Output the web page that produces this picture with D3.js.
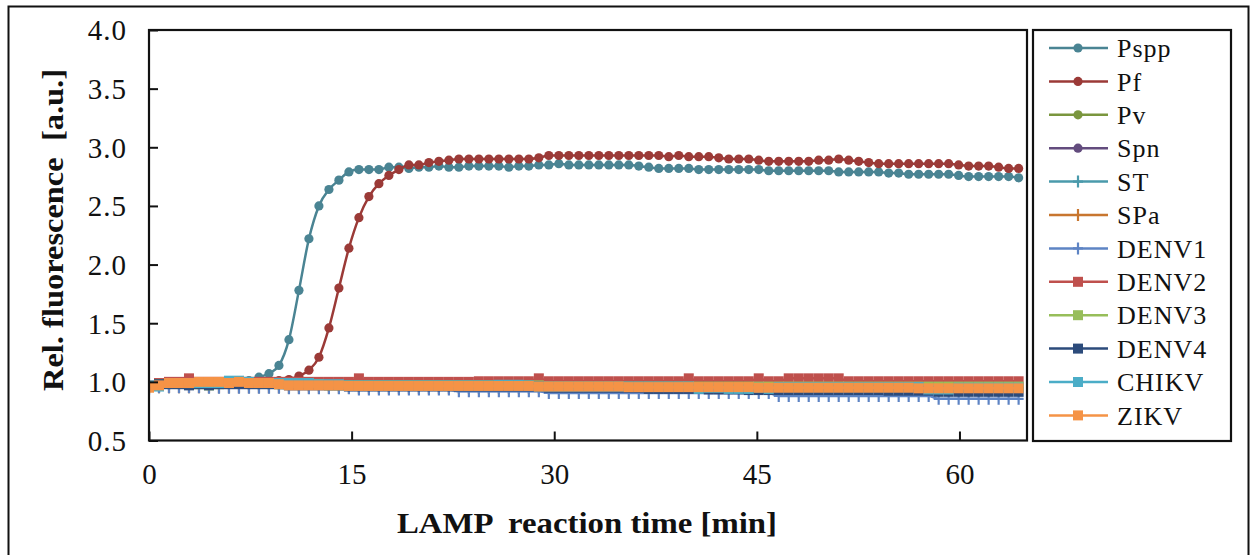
<!DOCTYPE html>
<html><head><meta charset="utf-8">
<script src="https://cdn.jsdelivr.net/npm/d3@7"></script>
<style>
html,body{margin:0;padding:0;background:#fff;}
svg{display:block;}
</style></head>
<body><svg id="c" width="1254" height="555"></svg>
<script>
// ---- data ----
const times = [0,0.74,1.48,2.22,2.96,3.7,4.44,5.18,5.92,6.66,7.4,8.14,8.88,9.62,10.36,11.1,11.84,12.58,13.32,14.06,14.8,15.54,16.28,17.02,17.76,18.5,19.24,19.98,20.72,21.46,22.2,22.94,23.68,24.42,25.16,25.9,26.64,27.38,28.12,28.86,29.6,30.34,31.08,31.82,32.56,33.3,34.04,34.78,35.52,36.26,37,37.74,38.48,39.22,39.96,40.7,41.44,42.18,42.92,43.66,44.4,45.14,45.88,46.62,47.36,48.1,48.84,49.58,50.32,51.06,51.8,52.54,53.28,54.02,54.76,55.5,56.24,56.98,57.72,58.46,59.2,59.94,60.68,61.42,62.16,62.9,63.64,64.38];

const Pspp = [0.96,0.98,0.99,1.00,1.00,1.00,1.00,1.00,1.00,1.01,
 1.01,1.04,1.07,1.14,1.36,1.78,2.22,2.50,2.64,2.72,
 2.79,2.81,2.81,2.81,2.83,2.83,2.82,2.83,2.83,2.84,
 2.83,2.83,2.84,2.84,2.84,2.84,2.83,2.84,2.84,2.85,
 2.85,2.86,2.85,2.85,2.85,2.85,2.85,2.85,2.85,2.84,
 2.83,2.82,2.82,2.82,2.82,2.81,2.81,2.81,2.81,2.81,
 2.81,2.81,2.80,2.80,2.80,2.80,2.80,2.80,2.80,2.79,
 2.79,2.79,2.79,2.79,2.78,2.78,2.77,2.77,2.77,2.77,
 2.77,2.76,2.75,2.75,2.75,2.75,2.75,2.74];
const Pf = [0.97,0.98,0.99,1.00,1.00,1.00,1.00,1.00,1.00,1.00,
 1.00,1.00,1.00,1.01,1.02,1.05,1.10,1.21,1.46,1.80,
 2.14,2.40,2.58,2.69,2.76,2.81,2.85,2.85,2.87,2.88,
 2.89,2.90,2.90,2.90,2.90,2.90,2.90,2.90,2.90,2.91,
 2.93,2.93,2.93,2.93,2.93,2.93,2.93,2.93,2.93,2.93,
 2.93,2.93,2.92,2.93,2.92,2.92,2.92,2.91,2.90,2.90,
 2.90,2.89,2.88,2.88,2.88,2.88,2.88,2.89,2.89,2.90,
 2.89,2.88,2.87,2.86,2.86,2.86,2.86,2.86,2.86,2.86,
 2.86,2.85,2.84,2.84,2.84,2.83,2.82,2.82];
const Pv = [0.96,0.98,0.99,0.99,0.99,0.99,0.99,0.99,0.99,0.99,
 0.99,0.99,0.98,0.98,0.98,0.98,0.97,0.97,0.97,0.97,
 0.97,0.97,0.97,0.97,0.97,0.97,0.97,0.97,0.97,0.97,
 0.97,0.97,0.97,0.97,0.97,0.97,0.97,0.97,0.97,0.97,
 0.96,0.96,0.96,0.96,0.96,0.96,0.96,0.96,0.96,0.96,
 0.96,0.96,0.96,0.96,0.96,0.96,0.96,0.96,0.96,0.96,
 0.96,0.96,0.96,0.96,0.96,0.96,0.96,0.96,0.96,0.96,
 0.96,0.96,0.96,0.96,0.96,0.96,0.96,0.96,0.96,0.96,
 0.96,0.96,0.96,0.96,0.96,0.96,0.96,0.96];
const Spn = [0.97,0.98,0.99,0.99,0.99,1.00,1.00,1.00,0.99,0.99,
 0.99,0.99,0.99,0.98,0.98,0.98,0.98,0.98,0.97,0.97,
 0.97,0.97,0.97,0.97,0.97,0.97,0.97,0.97,0.97,0.97,
 0.97,0.97,0.97,0.97,0.97,0.97,0.97,0.97,0.97,0.97,
 0.97,0.97,0.97,0.97,0.97,0.97,0.97,0.97,0.97,0.97,
 0.97,0.97,0.97,0.97,0.97,0.97,0.97,0.97,0.97,0.97,
 0.97,0.97,0.97,0.97,0.97,0.97,0.97,0.97,0.97,0.97,
 0.97,0.97,0.97,0.97,0.97,0.97,0.97,0.97,0.97,0.97,
 0.97,0.97,0.97,0.97,0.97,0.97,0.97,0.97];
const ST = [0.96,0.97,0.98,0.99,0.99,0.99,0.99,0.99,0.99,0.99,
 0.98,0.98,0.98,0.98,0.98,0.97,0.97,0.97,0.97,0.97,
 0.97,0.97,0.97,0.97,0.97,0.97,0.97,0.97,0.97,0.97,
 0.97,0.97,0.97,0.97,0.97,0.97,0.97,0.97,0.97,0.97,
 0.96,0.96,0.96,0.96,0.96,0.96,0.96,0.96,0.96,0.96,
 0.96,0.96,0.96,0.96,0.96,0.96,0.96,0.96,0.96,0.96,
 0.96,0.96,0.96,0.96,0.96,0.96,0.96,0.96,0.96,0.96,
 0.96,0.96,0.96,0.96,0.96,0.96,0.96,0.96,0.96,0.96,
 0.96,0.96,0.96,0.96,0.96,0.96,0.96,0.96];
const SPa = [0.95,0.955,0.955,0.955,0.955,0.955,0.955,0.955,0.955,0.955,
 0.955,0.955,0.955,0.955,0.95,0.95,0.95,0.95,0.95,0.95,
 0.95,0.95,0.95,0.95,0.95,0.95,0.95,0.95,0.95,0.95,
 0.95,0.95,0.95,0.95,0.95,0.95,0.95,0.95,0.95,0.95,
 0.95,0.95,0.95,0.95,0.95,0.95,0.95,0.95,0.95,0.95,
 0.95,0.95,0.95,0.95,0.95,0.95,0.95,0.95,0.95,0.95,
 0.95,0.95,0.95,0.95,0.95,0.95,0.95,0.95,0.95,0.95,
 0.95,0.95,0.95,0.95,0.95,0.95,0.95,0.95,0.95,0.95,
 0.95,0.95,0.95,0.95,0.95,0.95,0.95,0.95];
const DENV1 = [0.94,0.955,0.955,0.955,0.955,0.955,0.95,0.95,0.95,0.95,
 0.95,0.95,0.95,0.95,0.945,0.945,0.945,0.945,0.945,0.945,
 0.945,0.935,0.935,0.935,0.935,0.935,0.935,0.935,0.935,0.935,
 0.935,0.92,0.92,0.92,0.92,0.92,0.92,0.92,0.92,0.92,
 0.905,0.905,0.905,0.905,0.905,0.905,0.905,0.905,0.905,0.905,
 0.905,0.905,0.905,0.905,0.905,0.905,0.905,0.905,0.905,0.905,
 0.905,0.905,0.905,0.88,0.88,0.88,0.88,0.88,0.88,0.88,
 0.88,0.88,0.88,0.88,0.88,0.88,0.88,0.88,0.88,0.855,
 0.855,0.855,0.855,0.855,0.855,0.855,0.855,0.855];
const DENV2 = [0.97,0.99,1.00,1.00,1.03,1.00,1.00,1.00,1.00,1.00,
 1.00,1.00,1.00,1.00,1.00,1.00,1.00,1.00,1.00,1.00,
 1.00,1.03,1.00,1.00,1.00,1.00,1.00,1.00,1.00,1.00,
 1.00,1.00,1.00,1.005,1.005,1.005,1.005,1.005,1.005,1.03,
 1.005,1.005,1.005,1.005,1.005,1.005,1.005,1.005,1.005,1.005,
 1.005,1.005,1.005,1.005,1.03,1.005,1.005,1.005,1.005,1.005,
 1.005,1.03,1.005,1.005,1.03,1.03,1.03,1.03,1.03,1.03,
 1.005,1.005,1.005,1.005,1.005,1.005,1.005,1.005,1.005,1.005,
 1.005,1.005,1.005,1.005,1.005,1.005,1.005,1.005];
const DENV3 = [0.96,0.98,0.99,0.99,0.99,0.98,0.97,0.98,0.99,0.99,
 0.99,0.99,0.99,0.98,0.98,0.98,0.98,0.98,0.97,0.97,
 0.97,0.97,0.97,0.97,0.97,0.97,0.97,0.97,0.97,0.97,
 0.97,0.97,0.97,0.97,0.97,0.97,0.97,0.97,0.97,0.97,
 0.96,0.96,0.96,0.96,0.96,0.96,0.96,0.96,0.96,0.96,
 0.96,0.96,0.96,0.96,0.96,0.96,0.96,0.96,0.96,0.96,
 0.96,0.96,0.96,0.96,0.96,0.96,0.96,0.96,0.96,0.96,
 0.96,0.96,0.96,0.96,0.96,0.96,0.96,0.96,0.96,0.96,
 0.96,0.96,0.96,0.96,0.96,0.96,0.96,0.96];
const DENV4 = [0.96,0.98,0.98,0.98,0.97,0.98,0.97,0.98,0.98,0.98,
 0.98,0.98,0.98,0.98,0.97,0.97,0.97,0.97,0.97,0.97,
 0.96,0.96,0.96,0.96,0.96,0.96,0.96,0.96,0.96,0.96,
 0.96,0.96,0.96,0.96,0.96,0.96,0.96,0.96,0.96,0.96,
 0.95,0.95,0.95,0.95,0.95,0.95,0.95,0.95,0.95,0.95,
 0.94,0.94,0.94,0.94,0.94,0.94,0.935,0.935,0.935,0.935,
 0.93,0.93,0.93,0.93,0.93,0.93,0.93,0.93,0.93,0.93,
 0.93,0.93,0.93,0.93,0.925,0.925,0.925,0.925,0.925,0.915,
 0.915,0.915,0.915,0.915,0.915,0.915,0.915,0.915];
const CHIKV = [0.97,0.96,0.99,0.99,0.99,0.99,0.99,0.99,1.01,1.01,
 1.00,0.99,0.99,0.99,0.99,0.99,0.99,0.98,0.98,0.98,
 0.97,0.97,0.97,0.97,0.97,0.97,0.97,0.97,0.97,0.97,
 0.97,0.97,0.97,0.97,0.97,0.975,0.975,0.975,0.97,0.96,
 0.96,0.96,0.96,0.96,0.96,0.96,0.96,0.96,0.96,0.96,
 0.96,0.96,0.96,0.96,0.96,0.94,0.95,0.95,0.94,0.94,
 0.94,0.95,0.94,0.955,0.955,0.955,0.955,0.955,0.955,0.955,
 0.955,0.955,0.955,0.955,0.955,0.955,0.955,0.955,0.935,0.935,
 0.935,0.95,0.95,0.95,0.95,0.95,0.95,0.95];
const ZIKV = [0.95,0.97,0.99,0.99,0.99,1.00,1.00,1.00,0.99,1.00,
 0.99,0.99,0.99,0.98,0.97,0.97,0.97,0.97,0.97,0.97,
 0.965,0.965,0.965,0.965,0.965,0.965,0.965,0.965,0.965,0.965,
 0.965,0.965,0.965,0.965,0.965,0.965,0.965,0.965,0.965,0.96,
 0.96,0.96,0.96,0.96,0.96,0.96,0.96,0.96,0.955,0.955,
 0.955,0.955,0.955,0.955,0.955,0.955,0.955,0.955,0.955,0.955,
 0.955,0.95,0.95,0.95,0.95,0.95,0.95,0.95,0.95,0.95,
 0.95,0.95,0.95,0.95,0.95,0.95,0.95,0.945,0.945,0.945,
 0.945,0.945,0.945,0.945,0.945,0.945,0.945,0.945];

const seriesNames = ["Pspp","Pf","Pv","Spn","ST","SPa","DENV1","DENV2","DENV3","DENV4","CHIKV","ZIKV"];
const seriesValues = [Pspp,Pf,Pv,Spn,ST,SPa,DENV1,DENV2,DENV3,DENV4,CHIKV,ZIKV];
const seriesColors = ["#4A8493","#9B3A37","#7A963E","#634C7E","#4A9AAB","#C8762F","#5E84C4","#BF504D","#97BE5A","#2C4B7B","#4BADC7","#F59346"];
const seriesMarkers = ["circle","circle","circle","circle","plus","plus","plus","square","square","square","square","square"];
const xTicks = [0,15,30,45,60];
const yTicks = [0.5,1.0,1.5,2.0,2.5,3.0,3.5,4.0];
const xTitle = "LAMP  reaction time [min]";
const yTitle = "Rel. fluorescence  [a.u.]";

// ---- layout ----
const svg = d3.select("#c");
const L = 149, R = 1027, T = 30, B = 440.5;
const x = d3.scaleLinear().domain([0,65]).range([L,R]);
const y = d3.scaleLinear().domain([0.5,4.0]).range([B,T]);
const serif = "'Liberation Serif','Times New Roman',Times,serif";

// outer frame
svg.append("rect").attr("x",8.5).attr("y",6.5).attr("width",1240).attr("height",560)
  .attr("fill","none").attr("stroke","#111").attr("stroke-width",2);

const gPlot = svg.append("g");
gPlot.append("defs").append("clipPath").attr("id","clip")
  .append("rect").attr("x",L).attr("y",T-8).attr("width",R-L).attr("height",B-T+16);

const line = d3.line().curve(d3.curveMonotoneX);

const drawMarker = (g, type, color, px, py) => {
  if (type === "circle") {
    g.append("circle").attr("cx",px).attr("cy",py).attr("r",4.6).attr("fill",color);
  } else if (type === "square") {
    g.append("rect").attr("x",px-5).attr("y",py-5).attr("width",10).attr("height",10).attr("fill",color);
  } else {
    g.append("path").attr("d",`M${px-5},${py}H${px+5}M${px},${py-6}V${py+6}`)
      .attr("stroke",color).attr("stroke-width",2.2).attr("fill","none");
  }
};

const content = gPlot.append("g").attr("clip-path","url(#clip)");
seriesNames.forEach((name,k) => {
  const vals = seriesValues[k];
  const pts = times.map((t,i) => [x(t), y(vals[i])]);
  const g = content.append("g");
  g.append("path").attr("d",line(pts)).attr("fill","none")
    .attr("stroke",seriesColors[k]).attr("stroke-width",2.5);
  pts.forEach(p => drawMarker(g, seriesMarkers[k], seriesColors[k], p[0], p[1]));
});

// axes
const xAxis = d3.axisBottom(x).tickValues(xTicks).tickSizeInner(-9).tickSizeOuter(0).tickPadding(24)
  .tickFormat(d3.format("d"));
const yAxis = d3.axisLeft(y).tickValues(yTicks).tickSizeInner(-9).tickSizeOuter(0).tickPadding(22)
  .tickFormat(d3.format(".1f"));
const gx = svg.append("g").attr("transform",`translate(0,${B})`).call(xAxis);
const gy = svg.append("g").attr("transform",`translate(${L},0)`).call(yAxis);
[gx,gy].forEach(g => {
  g.select(".domain").remove();
  g.selectAll(".tick line").attr("stroke","#111").attr("stroke-width",2);
  g.selectAll(".tick text").attr("font-family",serif).attr("font-size",29).attr("fill","#111");
});
gy.selectAll(".tick text").attr("dy","0.34em").attr("letter-spacing",1);
gx.selectAll(".tick text").attr("dy","0.66em");
// plot frame
svg.append("rect").attr("x",L).attr("y",T).attr("width",R-L).attr("height",B-T)
  .attr("fill","none").attr("stroke","#111").attr("stroke-width",2.2);

// titles
svg.append("text").attr("x",587).attr("y",533).attr("text-anchor","middle")
  .attr("font-family",serif).attr("font-weight","bold").attr("font-size",30).attr("fill","#111")
  .attr("textLength",380).attr("lengthAdjust","spacingAndGlyphs")
  .style("white-space","pre").text(xTitle);
svg.append("text").attr("transform",`translate(63,${230}) rotate(-90)`).attr("text-anchor","middle")
  .attr("font-family",serif).attr("font-weight","bold").attr("font-size",29).attr("fill","#111")
  .attr("textLength",322).attr("lengthAdjust","spacingAndGlyphs")
  .style("white-space","pre").text(yTitle);

// legend
const lg = svg.append("g");
lg.append("rect").attr("x",1033).attr("y",30).attr("width",198).attr("height",411)
  .attr("fill","#fff").attr("stroke","#111").attr("stroke-width",2.2);
seriesNames.forEach((name,k) => {
  const yy = 48 + k*33.4;
  const g = lg.append("g");
  g.append("line").attr("x1",1049).attr("x2",1108).attr("y1",yy).attr("y2",yy)
    .attr("stroke",seriesColors[k]).attr("stroke-width",2.5);
  drawMarker(g, seriesMarkers[k], seriesColors[k], 1078, yy);
  g.append("text").attr("x",1117).attr("y",yy).attr("dy","0.35em")
    .attr("font-family",serif).attr("font-size",26).attr("letter-spacing",1).attr("fill","#111").text(name);
});
</script></body></html>
